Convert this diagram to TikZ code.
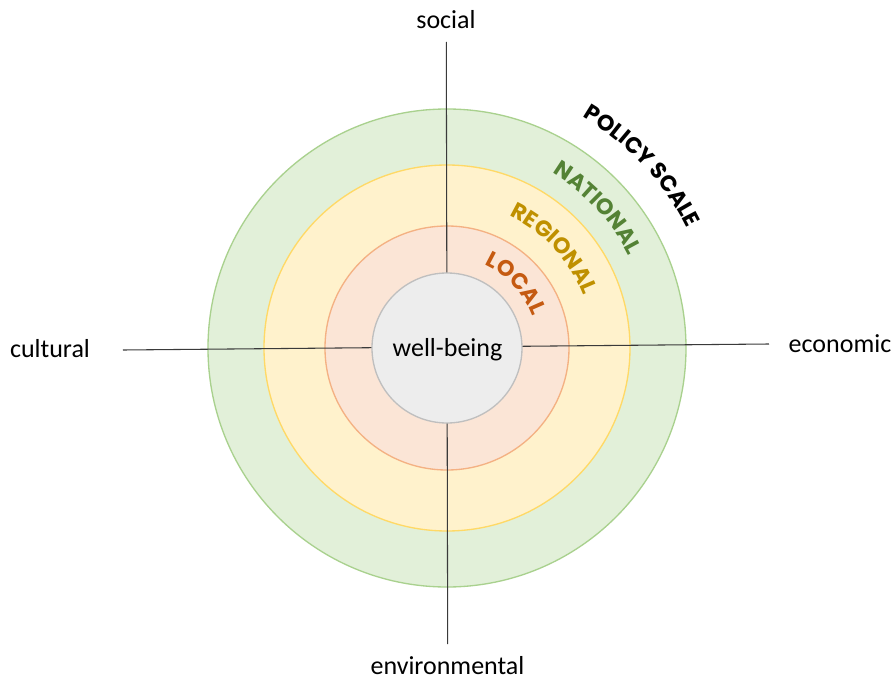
\documentclass[tikz,border=0pt]{standalone}
\usepackage{fontspec}
\setmainfont{Carlito}
\newfontfamily\scalefont{Poppins}[UprightFont=* Bold]
\usetikzlibrary{decorations.text}

\definecolor{greenfill}{HTML}{E2F0D9}
\definecolor{greenline}{HTML}{A9D18E}
\definecolor{yellowfill}{HTML}{FFF2CC}
\definecolor{yellowline}{HTML}{FFD966}
\definecolor{pinkfill}{HTML}{FBE5D6}
\definecolor{pinkline}{HTML}{F4B183}
\definecolor{corefill}{HTML}{EDEDED}
\definecolor{coreline}{HTML}{BFBFBF}
\definecolor{nationaltext}{HTML}{548235}
\definecolor{regionaltext}{HTML}{BF9000}
\definecolor{localtext}{HTML}{C55A11}
\definecolor{axisline}{HTML}{3A3A3A}

\newcommand{\scalelabel}{\fontsize{16.7pt}{17pt}\scalefont}

\tikzset{
  ring/.style={line width=1pt},
  axis/.style={draw=axisline, line width=0.8pt},
  dimlabel/.style={font=\fontsize{19.5pt}{21pt}\selectfont, inner sep=0pt, anchor=base},
  arclabel/.style 2 args={decorate, decoration={text along path,
      text format delimiters={|}{|},
      text={|\scalelabel\color{#1}|#2}, text align=center}}
}

\begin{document}
\begin{tikzpicture}[x=0.75pt, y=0.75pt]
  \useasboundingbox (-447,-331) rectangle (447,348);
  \coordinate (c) at (0,0);

  % policy scale rings
  \fill[greenfill, draw=greenline, ring] (c) circle[radius=239];
  \fill[yellowfill, draw=yellowline, ring] (c) circle[radius=183];
  \fill[pinkfill, draw=pinkline, ring] (c) circle[radius=122];

  % dimension axes
  \coordinate (top) at (-0.7,306);
  \coordinate (bottom) at (0.7,-296);
  \coordinate (left) at (-324,-2);
  \coordinate (right) at (322,4);
  \draw[axis] (top) -- (bottom);
  \draw[axis] (left) -- (right);

  % core
  \node[circle, fill=corefill, draw=coreline, ring, minimum size=150*0.75pt, inner sep=0pt] (core) at (c) {};
  \node[dimlabel] (wb) at (0.5,-8) {well-being};

  % dimension labels
  \node[dimlabel] (social) at (-1,320) {social};
  \node[dimlabel] (cultural) at (-397,-9) {cultural};
  \node[dimlabel] (economic) at (393,-4) {economic};
  \node[dimlabel] (environmental) at (0.5,-326) {environmental};

  % curved scale labels
  \path[arclabel={black}{POLICY SCALE}] (c) ++(93:268) arc[start angle=93, end angle=-7, radius=268];
  \path[arclabel={nationaltext}{NATIONAL}] (c) ++(93:204) arc[start angle=93, end angle=-7, radius=204];
  \path[arclabel={regionaltext}{REGIONAL}] (c) ++(93:146) arc[start angle=93, end angle=-7, radius=146];
  \path[arclabel={localtext}{LOCAL}] (c) ++(93:91) arc[start angle=93, end angle=-7, radius=91];
\end{tikzpicture}
\end{document}
